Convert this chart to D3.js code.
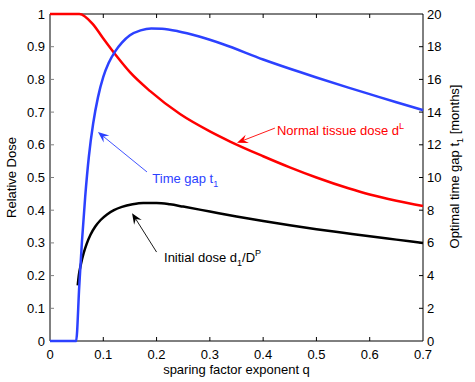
<!DOCTYPE html>
<html><head><meta charset="utf-8">
<script src="https://cdn.jsdelivr.net/npm/d3@7"></script>
<style>
body{margin:0;background:#fff;}
text{font-family:"Liberation Sans",Arial,Helvetica,sans-serif;}
</style></head>
<body>
<svg id="chart" width="475" height="382"></svg>
<script>
// ---- data ----
const xTicks = [0,0.1,0.2,0.3,0.4,0.5,0.6,0.7];
const leftTicks = [0,0.1,0.2,0.3,0.4,0.5,0.6,0.7,0.8,0.9,1];
const rightTicks = [0,2,4,6,8,10,12,14,16,18,20];

// Normal tissue dose d^L (left axis)
const qRed   = [0,0.055,0.08,0.1,0.126,0.15,0.188,0.244,0.3,0.338,0.4,0.45,0.5,0.56,0.6,0.65,0.7];
const redVal = [1,1,0.97,0.925,0.869,0.822,0.764,0.694,0.641,0.61,0.565,0.531,0.5,0.467,0.448,0.429,0.413];

// Initial dose d1/D^P (left axis)
const qBlack   = [0.052,0.054,0.058,0.063,0.069,0.076,0.085,0.095,0.107,0.12,0.135,0.155,0.175,0.2,0.225,0.25,0.3,0.35,0.4,0.45,0.5,0.55,0.6,0.65,0.7];
const blackVal = [0.17,0.2,0.235,0.268,0.298,0.325,0.35,0.37,0.387,0.4,0.41,0.418,0.422,0.422,0.418,0.411,0.396,0.381,0.367,0.354,0.342,0.331,0.32,0.31,0.30];

// Time gap t1 in months (right axis)
const qBlue   = [0,0.049,0.055,0.06,0.066,0.073,0.081,0.09,0.1,0.11,0.122,0.135,0.15,0.17,0.19,0.21,0.24,0.28,0.325,0.4,0.469,0.5,0.56,0.6,0.65,0.7];
const blueVal = [0,0,3.4,6.1,8.8,11.3,13.3,14.9,16.15,17.0,17.7,18.25,18.7,19.0,19.12,19.1,18.95,18.62,18.15,17.22,16.45,16.12,15.5,15.1,14.6,14.12];

// annotations in data coords [q, relative value]
const annTime   = {tail:[0.182,0.517], head:[0.09,0.639], at:[0.192,0.498]};
const annNormal = {tail:[0.422,0.651], head:[0.351,0.606], at:[0.426,0.645]};
const annInit   = {tail:[0.2,0.272], head:[0.154,0.391], at:[0.214,0.254]};

// ---- layout ----
const L=50,R=423,T=14,B=341;
const BLUE="#2c41ff", RED="#ff0000";
const svg=d3.select("#chart");
const x=d3.scaleLinear().domain([0,0.7]).range([L,R]);
const yL=d3.scaleLinear().domain([0,1]).range([B,T]);
const yR=d3.scaleLinear().domain([0,20]).range([B,T]);
const fs=13;

// ticks (inward)
const tk=4;
const g=svg.append("g");
xTicks.forEach(v=>{
  if(v>0&&v<0.7){
    g.append("line").attr("x1",x(v)).attr("x2",x(v)).attr("y1",B).attr("y2",B-tk).attr("stroke","#000");
    g.append("line").attr("x1",x(v)).attr("x2",x(v)).attr("y1",T).attr("y2",T+tk).attr("stroke","#000");
  }
  g.append("text").attr("x",x(v)).attr("y",B+18).attr("text-anchor","middle").attr("font-size",fs).text(d3.format("")(v));
});
leftTicks.forEach(v=>{
  if(v>0&&v<1) g.append("line").attr("x1",L).attr("x2",L+tk).attr("y1",yL(v)).attr("y2",yL(v)).attr("stroke","#808080");
  g.append("text").attr("x",L-5).attr("y",yL(v)).attr("dy","0.35em").attr("text-anchor","end").attr("font-size",fs).text(v);
});
rightTicks.forEach(v=>{
  if(v>0&&v<20) g.append("line").attr("x1",R).attr("x2",R-tk).attr("y1",yR(v)).attr("y2",yR(v)).attr("stroke","#000");
  g.append("text").attr("x",R+4).attr("y",yR(v)).attr("dy","0.35em").attr("text-anchor","start").attr("font-size",fs).text(v);
});

// frame
svg.append("line").attr("x1",L).attr("x2",R).attr("y1",B).attr("y2",B).attr("stroke","#000");
svg.append("line").attr("x1",L).attr("x2",R).attr("y1",T).attr("y2",T).attr("stroke","#000");
svg.append("line").attr("x1",R).attr("x2",R).attr("y1",T).attr("y2",B).attr("stroke","#000");
svg.append("line").attr("x1",L).attr("x2",L).attr("y1",T).attr("y2",B).attr("stroke","#808080").attr("stroke-width",2);

// curves
const lineL=d3.line().x(d=>x(d[0])).y(d=>yL(d[1])).curve(d3.curveMonotoneX);
const lineR=d3.line().x(d=>x(d[0])).y(d=>yR(d[1])).curve(d3.curveMonotoneX);
svg.append("path").datum(d3.zip(qRed,redVal)).attr("d",lineL).attr("fill","none").attr("stroke",RED).attr("stroke-width",2.5);
svg.append("path").datum(d3.zip(qBlack,blackVal)).attr("d",lineL).attr("fill","none").attr("stroke","#000").attr("stroke-width",2.5);
svg.append("path").datum(d3.zip(qBlue,blueVal)).attr("d",lineR).attr("fill","none").attr("stroke",BLUE).attr("stroke-width",2.5);

// arrows
function arrow(a,color){
  const x1=x(a.tail[0]),y1=yL(a.tail[1]),x2=x(a.head[0]),y2=yL(a.head[1]);
  const ang=Math.atan2(y2-y1,x2-x1);
  const len=11,w=4.5,notch=7;
  const ux=Math.cos(ang),uy=Math.sin(ang),px=-uy,py=ux;
  const bx=x2-ux*len,by=y2-uy*len;
  const nx=x2-ux*notch,ny=y2-uy*notch;
  svg.append("line").attr("x1",x1).attr("y1",y1).attr("x2",nx).attr("y2",ny).attr("stroke",color).attr("stroke-width",0.9);
  svg.append("path").attr("d",`M${x2},${y2}L${bx+px*w},${by+py*w}L${nx},${ny}L${bx-px*w},${by-py*w}Z`).attr("fill",color);
}
arrow(annTime,BLUE);
arrow(annNormal,RED);
arrow(annInit,"#000");

function label(a,color,parts){
  const t=svg.append("text").attr("x",x(a.at[0])).attr("y",yL(a.at[1])).attr("dy","0.35em").attr("font-size",fs).attr("fill",color);
  parts.forEach(p=>{
    const s=t.append("tspan").text(p[0]);
    if(p[1]==="sub"){s.attr("font-size",9).attr("dy",4);}
    else if(p[1]==="sup"){s.attr("font-size",9).attr("dy",-6);}
  });
}
label(annTime,BLUE,[["Time gap t"],["1","sub"]]);
label(annNormal,RED,[["Normal tissue dose d"],["L","sup"]]);
(function(){
  const a=annInit;
  const t=svg.append("text").attr("x",x(a.at[0])).attr("y",yL(a.at[1])).attr("dy","0.35em").attr("font-size",fs).attr("fill","#000");
  t.append("tspan").text("Initial dose d");
  t.append("tspan").text("1").attr("font-size",9).attr("dy",4);
  t.append("tspan").text("/D").attr("dy",-4);
  t.append("tspan").text("P").attr("font-size",9).attr("dy",-6);
})();

// axis labels
svg.append("text").attr("x",(L+R)/2).attr("y",B+33).attr("text-anchor","middle").attr("font-size",fs).text("sparing factor exponent q");
svg.append("text").attr("transform",`translate(16,${(T+B)/2}) rotate(-90)`).attr("text-anchor","middle").attr("font-size",fs).text("Relative Dose");
(function(){
  const t=svg.append("text").attr("transform",`translate(459,${(T+B)/2-11}) rotate(-90)`).attr("text-anchor","middle").attr("font-size",fs);
  t.append("tspan").text("Optimal time gap t");
  t.append("tspan").text("1").attr("font-size",9).attr("dy",4);
  t.append("tspan").text(" [months]").attr("dy",-4);
})();
</script>
</body></html>
